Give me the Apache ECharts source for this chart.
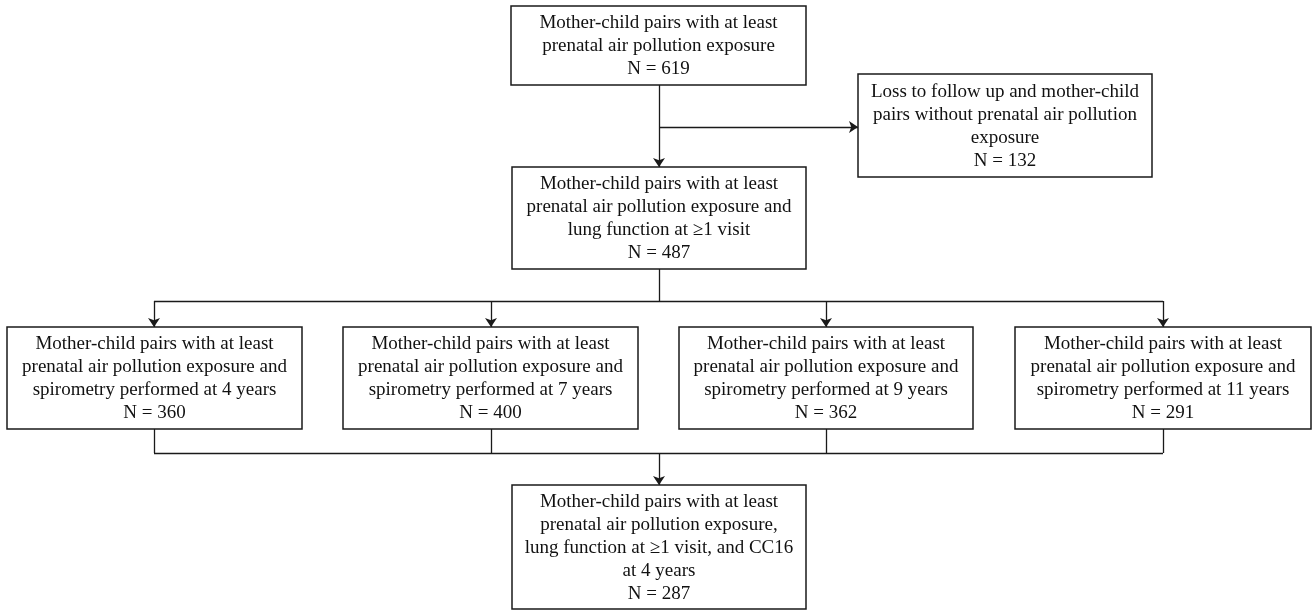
<!DOCTYPE html>
<html>
<head>
<meta charset="utf-8">
<script src="https://cdn.jsdelivr.net/npm/echarts@6/dist/echarts.min.js"></script>
<style>
html,body{margin:0;padding:0;background:#fff;}
#chart{width:1313px;height:612px;}
</style>
</head>
<body>
<div id="chart"></div>
<script>
// ---- data ----
const stageLabels = [
  "Mother-child pairs with at least\nprenatal air pollution exposure",
  "Loss to follow up and mother-child\npairs without prenatal air pollution\nexposure",
  "Mother-child pairs with at least\nprenatal air pollution exposure and\nlung function at \u22651 visit",
  "Mother-child pairs with at least\nprenatal air pollution exposure and\nspirometry performed at 4 years",
  "Mother-child pairs with at least\nprenatal air pollution exposure and\nspirometry performed at 7 years",
  "Mother-child pairs with at least\nprenatal air pollution exposure and\nspirometry performed at 9 years",
  "Mother-child pairs with at least\nprenatal air pollution exposure and\nspirometry performed at 11 years",
  "Mother-child pairs with at least\nprenatal air pollution exposure,\nlung function at \u22651 visit, and CC16\nat 4 years"
];
const stageN = [619, 132, 487, 360, 400, 362, 291, 287];

// ---- layout (page space, 1313 x 612) ----
const boxLayout = [
  [511, 6, 806, 85],
  [858, 74, 1152, 177],
  [512, 167, 806, 269],
  [7, 327, 302, 429],
  [343, 327, 638, 429],
  [679, 327, 973, 429],
  [1015, 327, 1311, 429],
  [512, 485, 806, 609]
];
const arrowConnectors = [
  [[659, 85], [659, 167]],
  [[659, 127], [858, 127]],
  [[154, 301], [154, 327]],
  [[491, 301], [491, 327]],
  [[826, 301], [826, 327]],
  [[1163, 301], [1163, 327]],
  [[659, 453], [659, 485]]
];
const plainConnectors = [
  [[659, 269], [659, 301]],
  [[154, 301], [1163, 301]],
  [[154, 429], [154, 453]],
  [[491, 429], [491, 453]],
  [[826, 429], [826, 453]],
  [[1163, 429], [1163, 453]],
  [[154, 453], [1163, 453]]
];

const boxData = boxLayout.map((b, i) => [b[0], b[1], b[2], b[3], i]);

const chart = echarts.init(document.getElementById('chart'), null, {renderer: 'canvas'});
const lineColor = '#1a1a1a';

chart.setOption({
  backgroundColor: '#ffffff',
  animation: false,
  grid: {left: 0, right: 0, top: 0, bottom: 0},
  xAxis: {type: 'value', min: 0, max: 1313, show: false},
  yAxis: {type: 'value', min: 0, max: 612, inverse: true, show: false},
  series: [
    {
      type: 'lines',
      coordinateSystem: 'cartesian2d',
      silent: true,
      z: 1,
      lineStyle: {color: lineColor, width: 1.3, opacity: 1},
      symbol: ['none', 'none'],
      data: plainConnectors.map(c => ({coords: c}))
    },
    {
      type: 'lines',
      coordinateSystem: 'cartesian2d',
      silent: true,
      z: 1,
      lineStyle: {color: lineColor, width: 1.3, opacity: 1},
      symbol: ['none', 'arrow'],
      symbolSize: [7, 9],
      data: arrowConnectors.map(c => ({coords: c}))
    },
    {
      type: 'custom',
      coordinateSystem: 'cartesian2d',
      silent: true,
      z: 2,
      data: boxData,
      renderItem: function (params, api) {
        const p0 = api.coord([api.value(0), api.value(1)]);
        const p1 = api.coord([api.value(2), api.value(3)]);
        const idx = api.value(4);
        const text = stageLabels[idx] + '\nN = ' + stageN[idx];
        return {
          type: 'group',
          children: [
            {
              type: 'rect',
              shape: {x: p0[0], y: p0[1], width: p1[0] - p0[0], height: p1[1] - p0[1]},
              style: {fill: '#ffffff', stroke: lineColor, lineWidth: 1.5}
            },
            {
              type: 'text',
              x: (p0[0] + p1[0]) / 2,
              y: (p0[1] + p1[1]) / 2 + 1,
              style: {
                text: text,
                fontFamily: '"Liberation Serif", "Times New Roman", serif',
                fontSize: 19,
                lineHeight: 23,
                align: 'center',
                verticalAlign: 'middle',
                fill: '#111111'
              }
            }
          ]
        };
      }
    }
  ]
});
</script>
</body>
</html>
